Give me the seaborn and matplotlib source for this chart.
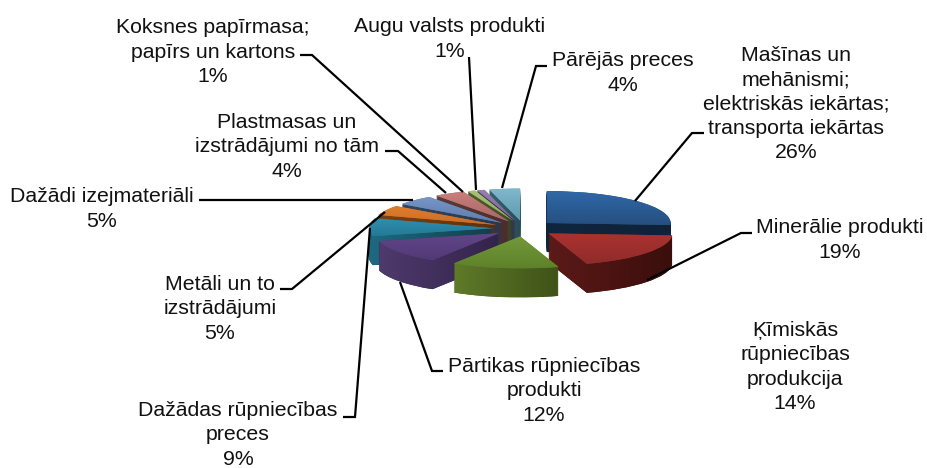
import numpy as np
import matplotlib
matplotlib.use("Agg")
import matplotlib.pyplot as plt
from matplotlib.path import Path
import seaborn as sns

categories = ["Mašīnas un\nmehānismi;\nelektriskās iekārtas;\ntransporta iekārtas",
              "Minerālie produkti", "Ķīmiskās\nrūpniecības\nprodukcija",
              "Pārtikas rūpniecības\nprodukti", "Dažādas rūpniecības\npreces",
              "Metāli un to\nizstrādājumi", "Dažādi izejmateriāli",
              "Plastmasas un\nizstrādājumi no tām", "Koksnes papīrmasa;\npapīrs un kartons",
              "Augu valsts produkti", "Pārējās preces"]
shares = [26, 19, 14, 12, 9, 5, 5, 4, 1, 1, 4]
top_light = ["#3069a8", "#ab3230", "#74983a", "#62458a", "#2f8fae", "#e07d2c",
             "#7596c8", "#c8807e", "#a9c272", "#9580b2", "#80b8cc"]
top_dark = ["#264f80", "#8f2c2a", "#5d8229", "#523a76", "#237a96", "#c96e26",
            "#5f7cab", "#a86765", "#8ea65c", "#7a6796", "#5f9ab0"]
side_left = ["#10263f", "#5c1a18", "#5f7a28", "#4e3a6c", "#1d6a80", "#7a4214",
             "#34455f", "#5f3b3a", "#4c5e30", "#46395c", "#37626f"]
side_right = ["#0f2238", "#3a0e0c", "#3f5218", "#33234a", "#133e4a", "#5e300c",
              "#2a384e", "#4a2d2c", "#3c4c26", "#352b48", "#2a4c58"]
label_pos = [(796, 104), (840, 240), (795, 367), (544, 391), (238, 435), (220, 309),
             (102, 209), (287, 147), (213, 52), (450, 39), (623, 73)]
leaders = [[(704, 133), (692, 133), (635, 201)],
           [(752, 233), (741, 233), (647, 280)],
           [],
           [(443, 371), (432, 371), (400, 282)],
           [(343, 417), (355, 417), (370, 228)],
           [(280, 289), (292, 289), (385, 212)],
           [(199, 200), (413, 200)],
           [(385, 151), (398, 151), (446, 193)],
           [(300, 55), (312, 55), (463, 192)],
           [(469, 57), (476, 190)],
           [(547, 66), (536, 66), (502, 188)]]

W, H = 928, 468
CX, CY, RX, RY = 524, 228.5, 124, 32
DEPTH_PX = 29
EXPLODE = 0.25

sns.set_theme(style="white")
plt.rcParams["font.family"] = ["Liberation Sans", "DejaVu Sans"]
fig = plt.figure(figsize=(W / 100, H / 100), dpi=100, facecolor="white")
ax = fig.add_axes([0, 0, 1, 1])

n = len(shares)
explode = [EXPLODE] * n
sides = [[] for _ in range(n)]
for k in range(DEPTH_PX, 0, -1):
    wedges, _ = ax.pie(shares, explode=explode, startangle=90, counterclock=False,
                       colors=side_right, center=(0, -k / RY), radius=1,
                       wedgeprops={"linewidth": 0}, normalize=True)
    for i, w in enumerate(wedges):
        sides[i].append(w)
tops, _ = ax.pie(shares, explode=explode, startangle=90, counterclock=False,
                 colors=top_dark, center=(0, 0), radius=1,
                 wedgeprops={"linewidth": 0}, normalize=True)

cum = np.cumsum([0] + shares)
mid = (cum[:-1] + cum[1:]) / 2 / sum(shares) * 2 * np.pi
order = np.argsort(-np.cos(mid))

def gradient(ax, colors, bbox, z, clip, transform, vertical):
    cmap = sns.blend_palette(colors, n_colors=128, as_cmap=True)
    g = np.linspace(0, 1, 128)
    g = g[:, None] if vertical else g[None, :]
    im = ax.imshow(g, cmap=cmap, aspect="auto", origin="upper", zorder=z, vmin=0, vmax=1,
                   extent=(bbox.x0, bbox.x1, bbox.y0, bbox.y1), interpolation="bilinear")
    im.set_clip_path(clip, transform)

for rank, i in enumerate(order):
    z = 2 + 3 * rank
    paths = []
    for w in sides[i]:
        w.set_zorder(z)
        paths.append(w.get_path().transformed(w.get_patch_transform()))
    comp = Path.make_compound_path(*paths)
    gradient(ax, [side_left[i], side_right[i]], comp.get_extents(), z + 0.5, comp, ax.transData, False)
    t = tops[i]
    t.set_zorder(z + 1)
    tp = t.get_path().transformed(t.get_patch_transform())
    gradient(ax, [top_light[i], top_dark[i]], tp.get_extents(), z + 1.5, tp, ax.transData, True)

ax.set_aspect("auto")
ax.set_xlim(-CX / RX, (W - CX) / RX)
ax.set_ylim(-(H - CY) / RY, CY / RY)
ax.axis("off")

ov = fig.add_axes([0, 0, 1, 1], facecolor="none")
ov.set_xlim(0, W)
ov.set_ylim(H, 0)
ov.axis("off")
for cat, share, (x, y), ld in zip(categories, shares, label_pos, leaders):
    ov.text(x, y, f"{cat}\n{share}%", ha="center", va="center", multialignment="center",
            fontsize=15.3, color="#111111", linespacing=1.34)
    if ld:
        ov.plot(*zip(*ld), color="black", lw=1.6, solid_joinstyle="miter", solid_capstyle="butt")

fig.savefig("out.png", dpi=100, facecolor="white")
